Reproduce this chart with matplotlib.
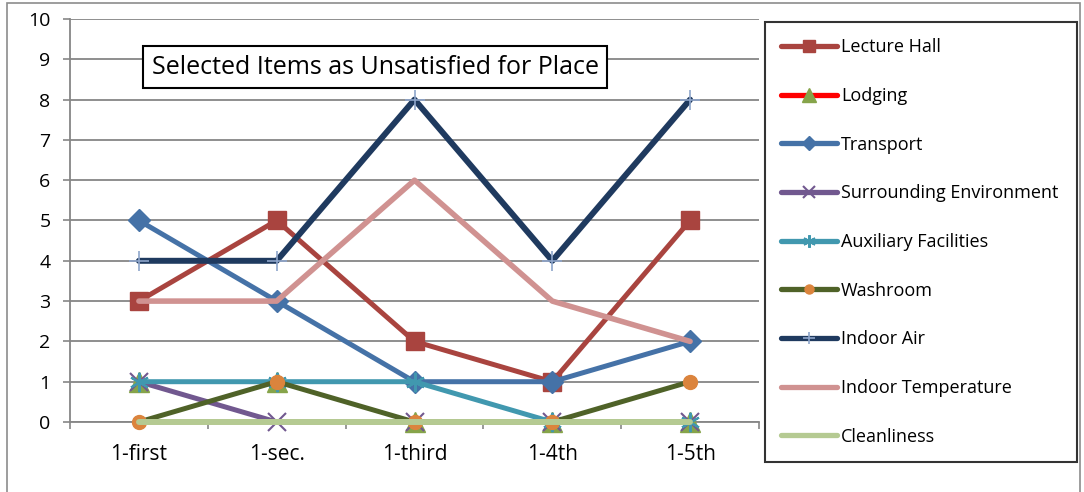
import matplotlib.pyplot as plt
from matplotlib.patches import Rectangle

plt.rcParams['font.family'] = ['Open Sans', 'DejaVu Sans']

# data
places = ["1-first", "1-sec.", "1-third", "1-4th", "1-5th"]
lecture_hall = [3, 5, 2, 1, 5]
lodging = [1, 1, 0, 0, 0]
transport = [5, 3, 1, 1, 2]
surrounding = [1, 0, 0, 0, 0]
auxiliary = [1, 1, 1, 0, 0]
washroom = [0, 1, 0, 0, 1]
indoor_air = [4, 4, 8, 4, 8]
indoor_temp = [3, 3, 6, 3, 2]
cleanliness = [0, 0, 0, 0, 0]

fig = plt.figure(figsize=(10.84, 4.92), dpi=100)
ax = fig.add_axes([70/1084, 1-422/492, (759-70)/1084, (422-19)/492])

x = list(range(len(places)))

# (label, values, line color, lw, marker, marker size, marker face, marker edge, mew)
series = [
    ("Lecture Hall", lecture_hall, "#A9443F", 3.6, "s", 13, "#A9443F", "#A9443F", 1),
    ("Lodging", lodging, "#FF0000", 1.6, "^", 15, "#86A44A", "#86A44A", 1),
    ("Transport", transport, "#4572A7", 3.6, "D", 11, "#4572A7", "#4572A7", 1),
    ("Surrounding Environment", surrounding, "#71588F", 3.6, "x", 13, "#71588F", "#71588F", 1.5),
    ("Auxiliary Facilities", auxiliary, "#4198AF", 3.6, (6, 2, 0), 14, "#4198AF", "#4198AF", 1.5),
    ("Washroom", washroom, "#4F6228", 3.6, "o", 10, "#DB843D", "#DB843D", 1),
    ("Indoor Air", indoor_air, "#1F3A5F", 4.3, "+", 14, "#8EA5CB", "#8EA5CB", 1.2),
    ("Indoor Temperature", indoor_temp, "#D09291", 4.0, None, 0, None, None, 1),
    ("Cleanliness", cleanliness, "#B5CA92", 4.3, None, 0, None, None, 1),
]

for label, vals, col, lw, mk, ms, mfc, mec, mew in series:
    ax.plot(x, vals, color=col, lw=lw, marker=mk, markersize=ms,
            markerfacecolor=mfc, markeredgecolor=mec, markeredgewidth=mew,
            solid_capstyle="round", label=label, clip_on=False, zorder=3)

ax.set_xlim(-0.5, 4.5)
ax.set_ylim(0, 10)
ax.set_yticks(range(0, 11))
ax.set_xticks(x)
ax.set_xticklabels(places)
ax.set_xticks([i - 0.5 for i in range(len(places) + 1)], minor=True)
ax.tick_params(axis="x", which="major", length=0, pad=16, labelsize=15)
ax.tick_params(axis="x", which="minor", length=5, width=1.2, color="#868686", direction="out")
ax.tick_params(axis="y", length=5, width=1.2, color="#868686", pad=9, labelsize=14)
ax.yaxis.grid(True, color="#868686", lw=1.3)
ax.set_axisbelow(True)
for s in ["top", "right"]:
    ax.spines[s].set_visible(False)
for s in ["left", "bottom"]:
    ax.spines[s].set_color("#868686")
    ax.spines[s].set_linewidth(1.3)

# title box
fig.text(375/1084, 1-67/492, "Selected Items as Unsatisfied for Place", fontsize=18,
         ha="center", va="center",
         bbox=dict(boxstyle="square,pad=0.35", fc="white", ec="black", lw=1.5))

leg = fig.legend(loc="upper left",
                 bbox_to_anchor=(765/1084, 1-22/492, (1077-765)/1084, 0),
                 mode="expand", fontsize=13, labelspacing=1.7, handlelength=3.1,
                 handletextpad=0.2, borderpad=0.9, borderaxespad=0,
                 markerscale=0.65, fancybox=False, edgecolor="black")
leg.get_frame().set_linewidth(1.5)
for h in leg.get_lines():
    h.set_linewidth(3.8)

# outer chart border
fig.patches.append(Rectangle((7/1084, -0.01), (1080-7)/1084, 1-3/492+0.01,
                             transform=fig.transFigure, fill=False,
                             ec="#8C8C8C", lw=1.2))

fig.savefig("out.png", dpi=100)
